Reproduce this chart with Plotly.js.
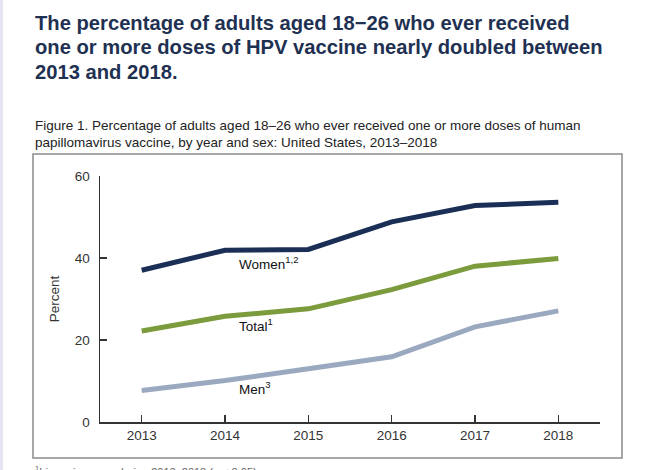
<!DOCTYPE html>
<html>
<head>
<meta charset="utf-8">
<script src="https://cdn.plot.ly/plotly-3.0.1.min.js"></script>
<style>
html,body{margin:0;padding:0;background:#fff;}
#chart{width:650px;height:470px;}
</style>
</head>
<body>
<div id="chart"></div>
<script>
// Data
const years = [2013, 2014, 2015, 2016, 2017, 2018];
const women = [37.0, 41.9, 42.1, 48.8, 52.8, 53.6];
const total = [22.2, 25.8, 27.6, 32.3, 38.0, 39.9];
const men = [7.7, 10.1, 13.0, 15.9, 23.2, 27.1];
const yTicks = [0, 20, 40, 60];
const seriesNames = ['Women<sup>1,2</sup>', 'Total<sup>1</sup>', 'Men<sup>3</sup>'];

const colors = ['#1b2f56', '#7b9b3d', '#9ba9c0'];
const seriesVals = [women, total, men];

const traces = seriesVals.map((v, i) => ({
  x: years, y: v, type: 'scatter', mode: 'lines',
  line: {color: colors[i], width: 5},
  hoverinfo: 'skip', showlegend: false
}));

// plot area in pixels: x 100..600, y 176..422
const L = 100, W = 500, T = 176, H = 246;
const px = p => (p - L) / W;
const py = p => (T + H - p) / H;
const FONT = 'Arial, Liberation Sans, sans-serif';

const labelY = [38.8, 23.7, 8.4];
const annotations = seriesNames.map((n, i) => ({
  xref: 'x', yref: 'y', x: 2014.14, y: labelY[i],
  xanchor: 'left', yanchor: 'middle', showarrow: false,
  text: n, font: {family: FONT, size: 13.5, color: '#111'}
}));

const titleLines = [
  'The percentage of adults aged 18\u221226 who ever received',
  'one or more doses of HPV vaccine nearly doubled between',
  '2013 and 2018.'
];
titleLines.forEach((t, i) => annotations.push({
  xref: 'paper', yref: 'paper', x: px(33), y: py(23 + i * 24.5),
  xanchor: 'left', yanchor: 'middle', showarrow: false, text: t,
  font: {family: FONT, size: 20.2, color: '#1f3152', weight: 'bold'}
}));
const capLines = [
  'Figure 1. Percentage of adults aged 18\u201326 who ever received one or more doses of human',
  'papillomavirus vaccine, by year and sex: United States, 2013\u20132018'
];
capLines.forEach((t, i) => annotations.push({
  xref: 'paper', yref: 'paper', x: px(33), y: py(126 + i * 16),
  xanchor: 'left', yanchor: 'middle', showarrow: false, text: t,
  font: {family: FONT, size: 13.5, color: '#222'}
}));
annotations.push({
  xref: 'paper', yref: 'paper', x: px(33), y: py(462),
  xanchor: 'left', yanchor: 'top', showarrow: false,
  text: '<sup>1</sup>Linear increase during 2013\u20132018 (p < 0.05).',
  font: {family: FONT, size: 11, color: '#666'}
});

const shapes = [
  {type: 'rect', xref: 'paper', yref: 'paper', x0: px(0), x1: px(3), y0: py(470), y1: py(0),
   fillcolor: '#e4e4f2', line: {width: 0}, layer: 'below'},
  {type: 'rect', xref: 'paper', yref: 'paper', x0: px(33), x1: px(622), y0: py(458), y1: py(154),
   fillcolor: 'rgba(0,0,0,0)', line: {color: '#8a8a8a', width: 1.5}, layer: 'below'}
];

const layout = {
  width: 650, height: 470,
  margin: {l: L, r: 650 - L - W, t: T, b: 470 - T - H, pad: 0},
  paper_bgcolor: '#fff', plot_bgcolor: '#fff',
  font: {family: FONT, size: 13, color: '#333'},
  xaxis: {
    range: [2012.5, 2018.5], tickvals: years, ticktext: years.map(String),
    ticks: 'inside', ticklen: 7, tickwidth: 1.3, tickcolor: '#333',
    showline: true, linecolor: '#333', linewidth: 1.5, showgrid: false, zeroline: false,
    tickfont: {size: 13.5, color: '#333'}, fixedrange: true
  },
  yaxis: {
    range: [0, 60], tickvals: yTicks, ticktext: yTicks.map(String),
    ticks: 'inside', ticklen: 7, tickwidth: 1.3, tickcolor: '#333',
    showline: true, linecolor: '#333', linewidth: 1.5, showgrid: false, zeroline: false,
    tickfont: {size: 13.5, color: '#333'}, ticklabelstandoff: 6,
    title: {text: 'Percent', font: {size: 13.5, color: '#333'}, standoff: 12}, fixedrange: true
  },
  annotations: annotations,
  shapes: shapes,
  showlegend: false
};

Plotly.newPlot('chart', traces, layout, {displayModeBar: false, staticPlot: true});
</script>
</body>
</html>
